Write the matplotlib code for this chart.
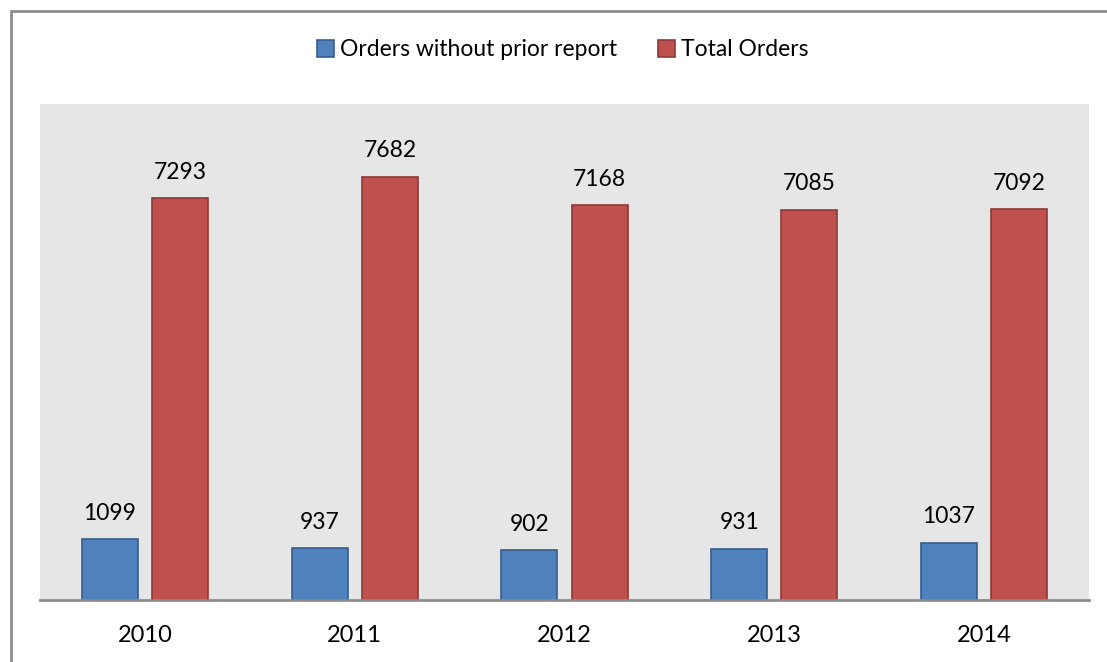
import matplotlib
matplotlib.use("Agg")
import matplotlib.pyplot as plt
import numpy as np
from matplotlib.patches import Rectangle

years = ["2010", "2011", "2012", "2013", "2014"]
without_prior = [1099, 937, 902, 931, 1037]
total_orders = [7293, 7682, 7168, 7085, 7092]
series_names = ["Orders without prior report", "Total Orders"]

plt.rcParams['font.family'] = ['Lato', 'DejaVu Sans']

W, H = 1107, 662
fig = plt.figure(figsize=(W / 100, H / 100), dpi=100)
ax = fig.add_axes([40 / W, (H - 600) / H, (1089 - 40) / W, (600 - 104) / H])
ax.set_facecolor('#E6E6E6')

x = np.arange(len(years))
bw = 0.267
off = 0.335 / 2
b1 = ax.bar(x - off, without_prior, bw, color='#4F81BD', edgecolor='#385D8A', linewidth=1.2,
            label=series_names[0], zorder=3)
b2 = ax.bar(x + off, total_orders, bw, color='#C0504D', edgecolor='#8C3836', linewidth=1.2,
            label=series_names[1], zorder=3)

for bars in (b1, b2):
    for r in bars:
        ax.annotate(f"{int(r.get_height())}", (r.get_x() + r.get_width() / 2, r.get_height()),
                    xytext=(0, 14), textcoords='offset points', ha='center', va='baseline',
                    fontsize=16.5, color='black')

ax.set_xlim(-0.5, len(years) - 0.5)
ax.set_ylim(0, 9000)
ax.set_xticks(x)
ax.set_xticklabels(years, fontsize=17)
ax.tick_params(axis='x', length=0, pad=18)
ax.set_yticks([])
for s in ['top', 'right', 'left']:
    ax.spines[s].set_visible(False)
ax.spines['bottom'].set_color('#8C8C8C')
ax.spines['bottom'].set_linewidth(2)
ax.spines['bottom'].set_zorder(4)

leg = fig.legend(handles=[b1, b2], labels=series_names, loc='center', bbox_to_anchor=(563 / W, 1 - 50 / H),
                 ncol=2, frameon=False, fontsize=16.5, handlelength=0.74, handleheight=0.74,
                 handletextpad=0.25, columnspacing=1.8)

fig.patches.append(Rectangle((11 / W, -0.1), 1.2, 1 - 11 / H + 0.1, transform=fig.transFigure,
                             fill=False, edgecolor='#8C8C8C', linewidth=2, zorder=10))

fig.savefig("out.png", dpi=100)
